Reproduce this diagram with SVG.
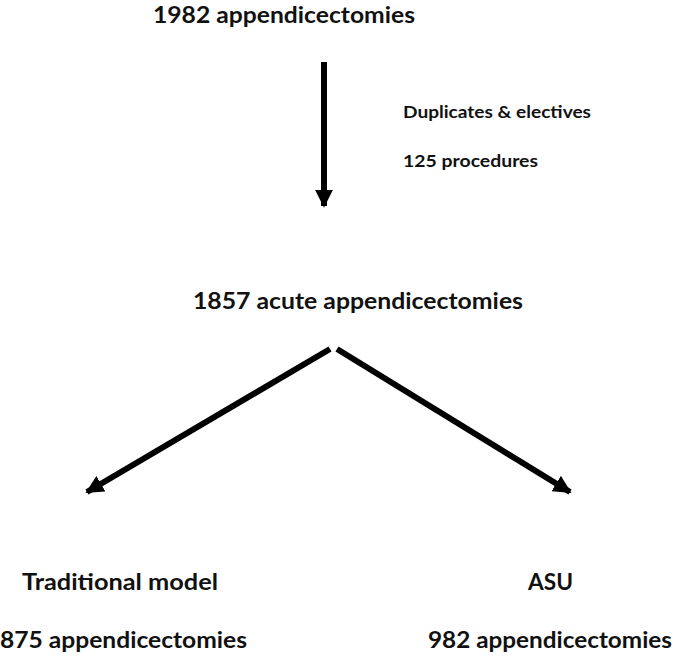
<svg xmlns="http://www.w3.org/2000/svg" width="678" height="658" viewBox="0 0 678 658">
<style>
text{font-family:Lato,"Open Sans",sans-serif;font-weight:bold;fill:#111;}
.big{font-size:22px;}
.small{font-size:17px;}
.conn{stroke:#000;stroke-width:6;fill:none;}
</style>
<defs>
<marker id="ah" viewBox="0 0 10 10" refX="9" refY="5" markerWidth="3" markerHeight="3" orient="auto" markerUnits="strokeWidth">
<path d="M0,0 L10,5 L0,10 z" fill="#000"/>
</marker>
</defs>
<rect width="678" height="658" fill="#fff"/>
<g id="connectors">
<line class="conn" x1="324" y1="62" x2="324" y2="206" stroke-width="5" marker-end="url(#ah)"/>
<line class="conn" x1="330" y1="349" x2="87" y2="492" marker-end="url(#ah)"/>
<line class="conn" x1="337" y1="349" x2="570" y2="492" marker-end="url(#ah)"/>
</g>
<g id="n1"><text class="big" x="153" y="23" textLength="262" lengthAdjust="spacingAndGlyphs">1982 appendicectomies</text></g>
<g id="label"><text class="small" x="403" y="118" textLength="188" lengthAdjust="spacingAndGlyphs">Duplicates &amp; electives</text>
<text class="small" x="403" y="167" textLength="135" lengthAdjust="spacingAndGlyphs">125 procedures</text></g>
<g id="n2"><text class="big" x="193" y="309" textLength="330" lengthAdjust="spacingAndGlyphs">1857 acute appendicectomies</text></g>
<g id="n3"><text class="big" x="22" y="590" textLength="196" lengthAdjust="spacingAndGlyphs">Traditional model</text>
<text class="big" x="0" y="648" textLength="247" lengthAdjust="spacingAndGlyphs">875 appendicectomies</text></g>
<g id="n4"><text class="big" x="528" y="590" textLength="45" lengthAdjust="spacingAndGlyphs">ASU</text>
<text class="big" x="428" y="648" textLength="244" lengthAdjust="spacingAndGlyphs">982 appendicectomies</text></g>
</svg>
